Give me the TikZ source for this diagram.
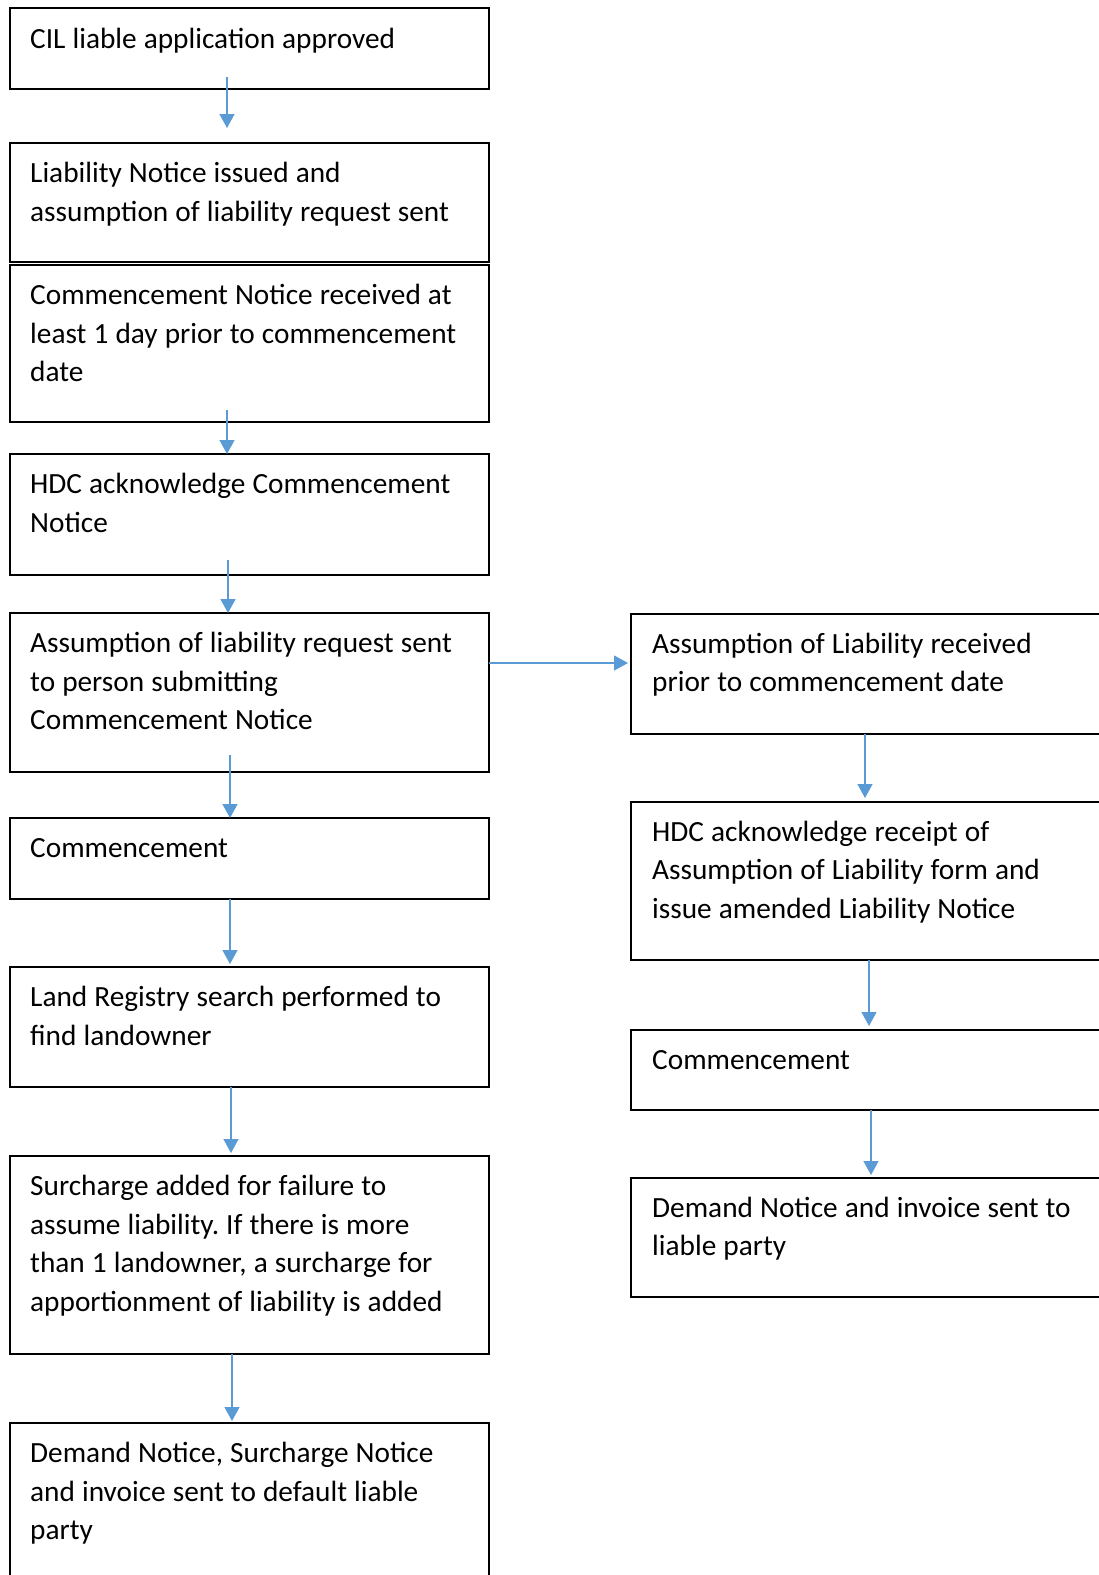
\documentclass[tikz,border=0pt]{standalone}
\usepackage{fontspec}
\setmainfont{Carlito}
\usetikzlibrary{arrows.meta}
\definecolor{arrblue}{RGB}{91,155,213}
\frenchspacing
\newcommand{\boxfont}{\fontsize{29.3pt}{38.6pt}\selectfont}
\begin{document}
\begin{tikzpicture}[x=1pt,y=-1pt,
  box/.style={draw=black,line width=2pt,inner sep=0pt,outer sep=0pt,anchor=north west},
  txt/.style={anchor=base west,inner sep=0pt,text width=600pt,font=\boxfont,
    execute at begin node={\spaceskip=7.1pt\relax\xspaceskip=7.1pt\relax}},
  arr/.style={draw=arrblue,line width=1.3pt,-{Triangle[length=14pt,width=15pt]}}]
\fill[white] (0,0) rectangle (1099,1575);
\useasboundingbox (0,0) rectangle (1099,1575);
% left column
\node[box,minimum width=479pt,minimum height=81pt] (b1) at (10,8) {};
\node[box,minimum width=479pt,minimum height=119pt] (b2) at (10,143) {};
\node[box,minimum width=479pt,minimum height=157pt] (b3) at (10,265) {};
\node[box,minimum width=479pt,minimum height=121pt] (b4) at (10,454) {};
\node[box,minimum width=479pt,minimum height=159pt] (b5) at (10,613) {};
\node[box,minimum width=479pt,minimum height=81pt] (b6) at (10,818) {};
\node[box,minimum width=479pt,minimum height=120pt] (b7) at (10,967) {};
\node[box,minimum width=479pt,minimum height=198pt] (b8) at (10,1156) {};
\node[box,minimum width=479pt,minimum height=180pt] (b9) at (10,1423) {};
% right column
\node[box,minimum width=474pt,minimum height=120pt] (r1) at (631,614) {};
\node[box,minimum width=474pt,minimum height=158pt] (r2) at (631,802) {};
\node[box,minimum width=474pt,minimum height=80pt] (r3) at (631,1030) {};
\node[box,minimum width=474pt,minimum height=119pt] (r4) at (631,1178) {};
% texts
\node[txt] (t1) at ([shift={(20,40)}]b1.north west) {CIL liable application approved};
\node[txt] (t2) at ([shift={(20,39.5)}]b2.north west) {Liability Notice issued and\\assumption of liability request sent};
\node[txt] (t3) at ([shift={(20,39.5)}]b3.north west) {Commencement Notice received at\\least 1 day prior to commencement\\date};
\node[txt] (t4) at ([shift={(20,39.5)}]b4.north west) {HDC acknowledge Commencement\\Notice};
\node[txt] (t5) at ([shift={(20,39.5)}]b5.north west) {Assumption of liability request sent\\to person submitting\\Commencement Notice};
\node[txt] (t6) at ([shift={(20,39.5)}]b6.north west) {Commencement};
\node[txt] (t7) at ([shift={(20,39.5)}]b7.north west) {Land Registry search performed to\\find landowner};
\node[txt] (t8) at ([shift={(20,39.5)}]b8.north west) {Surcharge added for failure to\\assume liability. If there is more\\than 1 landowner, a surcharge for\\apportionment of liability is added};
\node[txt] (t9) at ([shift={(20,39.5)}]b9.north west) {Demand Notice, Surcharge Notice\\and invoice sent to default liable\\party};
\node[txt] (u1) at ([shift={(21,39)}]r1.north west) {Assumption of Liability received\\prior to commencement date};
\node[txt] (u2) at ([shift={(21,39)}]r2.north west) {HDC acknowledge receipt of\\Assumption of Liability form and\\issue amended Liability Notice};
\node[txt] (u3) at ([shift={(21,39)}]r3.north west) {Commencement};
\node[txt] (u4) at ([shift={(21,39)}]r4.north west) {Demand Notice and invoice sent to\\liable party};
% arrows
\draw[arr] ([shift={(217,-12)}]b1.south west) -- ([shift={(217,-15)}]b2.north west);
\draw[arr] ([shift={(217,-12)}]b3.south west) -- ([shift={(217,0)}]b4.north west);
\draw[arr] ([shift={(218,-15)}]b4.south west) -- ([shift={(218,0)}]b5.north west);
\draw[arr] ([shift={(220,-17)}]b5.south west) -- ([shift={(220,0)}]b6.north west);
\draw[arr] ([shift={(220,0)}]b6.south west) -- ([shift={(220,-3)}]b7.north west);
\draw[arr] ([shift={(221,0)}]b7.south west) -- ([shift={(221,-3)}]b8.north west);
\draw[arr] ([shift={(222,0)}]b8.south west) -- ([shift={(222,-2)}]b9.north west);
\draw[arr] ([shift={(0,50)}]b5.north east) -- ([shift={(-3,49)}]r1.north west);
\draw[arr] ([shift={(234,0)}]r1.south west) -- ([shift={(234,-4)}]r2.north west);
\draw[arr] ([shift={(238,0)}]r2.south west) -- ([shift={(238,-4)}]r3.north west);
\draw[arr] ([shift={(240,0)}]r3.south west) -- ([shift={(240,-3)}]r4.north west);
\end{tikzpicture}
\end{document}
